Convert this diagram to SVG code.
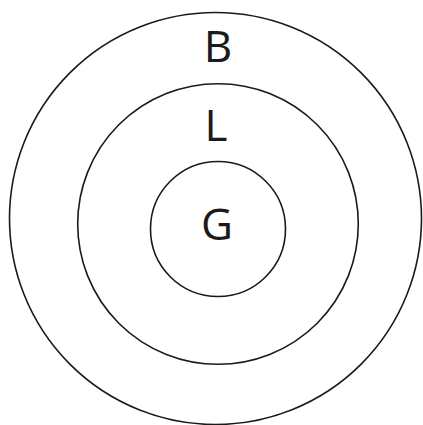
<svg xmlns="http://www.w3.org/2000/svg" width="423" height="425" viewBox="0 0 423 425">
<style>
.ring{fill:none;stroke:#1a1a1a;stroke-width:1.6}
.lbl{font-family:"Open Sans","Noto Sans",sans-serif;font-size:44px;fill:#1a1a1a;text-anchor:middle}
</style>
<rect width="423" height="425" fill="#fff"/>
<g id="B"><circle class="ring" cx="215.5" cy="218.5" r="206"/><text class="lbl" x="218" y="62">B</text></g>
<g id="L"><circle class="ring" cx="218" cy="224" r="140.3"/><text class="lbl" x="216" y="141">L</text></g>
<g id="G"><circle class="ring" cx="218" cy="229" r="67.5"/><text class="lbl" x="217" y="240">G</text></g>
<g id="connectors"/>
</svg>
